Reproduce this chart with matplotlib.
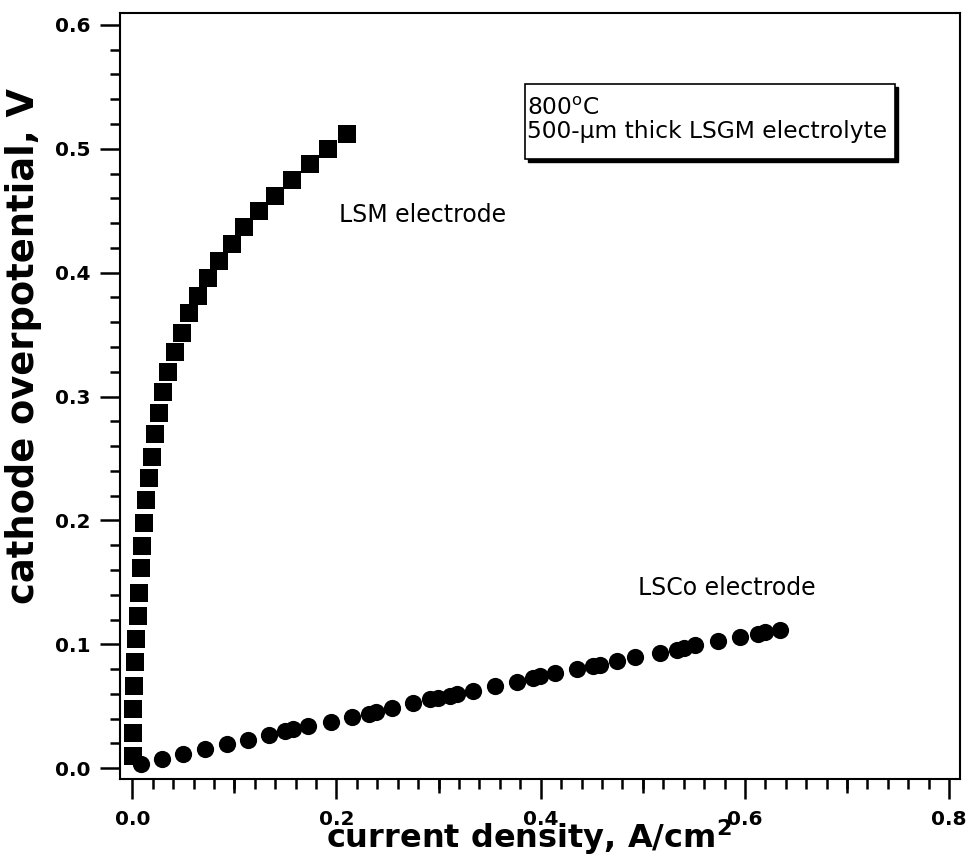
import matplotlib
matplotlib.use("Agg")
import matplotlib.pyplot as plt
from matplotlib.patches import Rectangle
from matplotlib.ticker import MultipleLocator, FixedLocator, NullFormatter

# LSM electrode (squares), current density A/cm2 vs overpotential V
lsm_j = [0.0003, 0.0004, 0.0010, 0.0012, 0.0026, 0.0036, 0.0053, 0.0066,
         0.0082, 0.0098, 0.0115, 0.0134, 0.0164, 0.0190, 0.0222, 0.0262,
         0.0304, 0.0353, 0.0418, 0.0484, 0.0558, 0.0646, 0.0744, 0.0852,
         0.0974, 0.1097, 0.1244, 0.1398, 0.1561, 0.1740, 0.1920, 0.2106]
lsm_v = [0.0099, 0.0283, 0.0476, 0.0664, 0.0856, 0.1041, 0.1232, 0.1417,
         0.1614, 0.1794, 0.1978, 0.2166, 0.2341, 0.2515, 0.2697, 0.2865,
         0.3040, 0.3201, 0.3358, 0.3516, 0.3673, 0.3815, 0.3955, 0.4097,
         0.4232, 0.4372, 0.4498, 0.4622, 0.4746, 0.4875, 0.4996, 0.5117]

# LSCo electrode (circles)
lsco_j = [0.0082, 0.0294, 0.0500, 0.0712, 0.0925, 0.1136, 0.1342, 0.1500,
          0.1576, 0.1724, 0.1943, 0.2155, 0.2315, 0.2390, 0.2541, 0.2752,
          0.2920, 0.2990, 0.3110, 0.3180, 0.3340, 0.3552, 0.3765, 0.3925,
          0.3997, 0.4140, 0.4353, 0.4515, 0.4585, 0.4744, 0.4924, 0.5168,
          0.5330, 0.5400, 0.5511, 0.5734, 0.5952, 0.6130, 0.6200, 0.6344]
lsco_v = [0.0035, 0.0075, 0.0115, 0.0153, 0.0194, 0.0228, 0.0269, 0.0302,
          0.0316, 0.0344, 0.0376, 0.0417, 0.0442, 0.0456, 0.0489, 0.0525,
          0.0556, 0.0568, 0.0586, 0.0598, 0.0626, 0.0664, 0.0699, 0.0728,
          0.0742, 0.0767, 0.0799, 0.0825, 0.0837, 0.0866, 0.0896, 0.0928,
          0.0958, 0.0972, 0.0995, 0.1030, 0.1062, 0.1084, 0.1096, 0.1116]

x_ticks = [0.0, 0.2, 0.4, 0.6, 0.8]
x_mid_ticks = [0.1, 0.3, 0.5, 0.7]
y_ticks = [0.0, 0.1, 0.2, 0.3, 0.4, 0.5, 0.6]

fig = plt.figure(figsize=(9.68, 8.63), dpi=100)
ax = fig.add_axes([0.124, 0.097, 0.8678, 0.8876])

ax.plot(lsm_j, lsm_v, 's', color='black', markersize=12.6, markeredgewidth=0)
ax.plot(lsco_j, lsco_v, 'o', color='black', markersize=12.4, markeredgewidth=0)

ax.set_xlim(-0.012, 0.8107)
ax.set_ylim(-0.0089, 0.6094)

for s in ax.spines.values():
    s.set_linewidth(1.5)

# ticks: outward, labels bold
ax.xaxis.set_major_locator(FixedLocator(x_ticks))
ax.xaxis.set_minor_locator(MultipleLocator(0.02))
ax.yaxis.set_major_locator(FixedLocator(y_ticks))
ax.yaxis.set_minor_locator(MultipleLocator(0.02))
ax.set_xticklabels(["%.1f" % t for t in x_ticks])
ax.set_yticklabels(["%.1f" % t for t in y_ticks])
ax.tick_params(which='major', direction='out', length=14.4, width=1.8,
               labelsize=14.5, top=False, right=False)
ax.tick_params(which='minor', direction='out', length=7.2, width=1.8,
               top=False, right=False)
ax.tick_params(axis='x', which='major', pad=8)
ax.tick_params(axis='y', which='major', pad=7)
for lbl in ax.get_xticklabels() + ax.get_yticklabels():
    lbl.set_fontweight('bold')

# medium ticks at the odd tenths
sec = ax.secondary_xaxis('bottom')
sec.spines['bottom'].set_visible(False)
sec.xaxis.set_major_locator(FixedLocator(x_mid_ticks))
sec.xaxis.set_major_formatter(NullFormatter())
sec.tick_params(direction='out', length=10, width=1.8)

ax.set_xlabel("current density, A/cm$^{\\mathbf{2}}$", fontsize=23, fontweight='bold')
ax.xaxis.set_label_coords(0.487, -0.050)
ax.set_ylabel("cathode overpotential, V", fontsize=26.5, fontweight='bold')
ax.yaxis.set_label_coords(-0.093, 0.566)

# curve labels
ax.text(0.2024, 0.441, "LSM electrode", fontsize=17, ha='left', va='baseline')
ax.text(0.4953, 0.1399, "LSCo electrode", fontsize=17, ha='left', va='baseline')

# condition box with a drop shadow
bx0, by0, bw, bh = 0.482, 0.8098, 0.4406, 0.0979
ax.add_patch(Rectangle((bx0 + 0.004, by0 - 0.004), bw, bh, transform=ax.transAxes,
                       facecolor='black', edgecolor='black', zorder=4))
ax.add_patch(Rectangle((bx0, by0), bw, bh, transform=ax.transAxes,
                       facecolor='white', edgecolor='black', linewidth=1.2, zorder=5))
ax.text(0.4845, 0.8672, "800$^{\\mathrm{o}}$C", fontsize=16.8, transform=ax.transAxes,
        ha='left', va='baseline', zorder=6)
ax.text(0.4845, 0.8372, "500-\u00b5m thick LSGM electrolyte", fontsize=16.8,
        transform=ax.transAxes, ha='left', va='baseline', zorder=6)

plt.savefig("out.png", dpi=100)
